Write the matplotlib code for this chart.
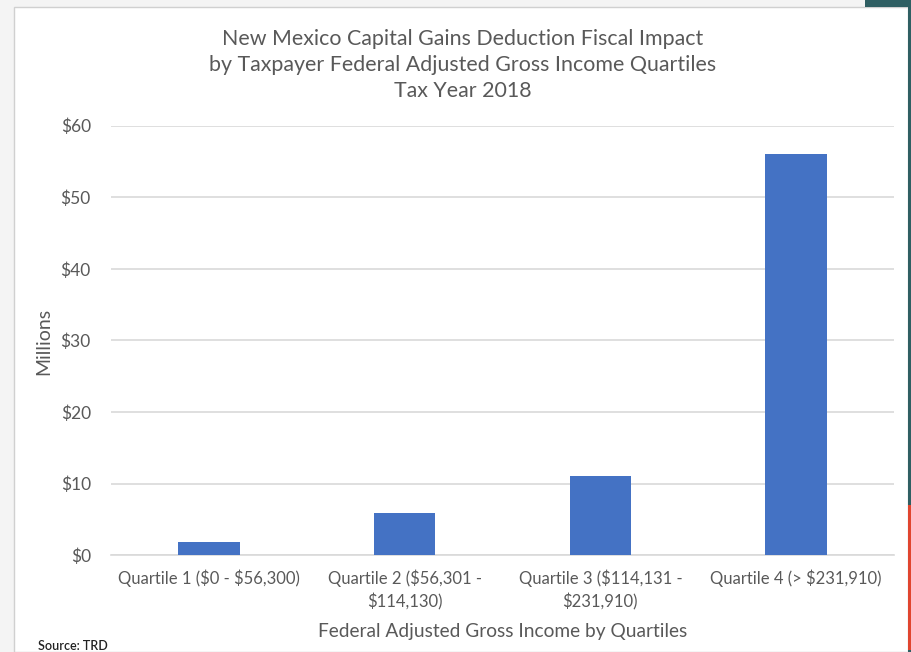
import matplotlib
matplotlib.use("Agg")
import matplotlib.pyplot as plt
from matplotlib.patches import Rectangle

plt.rcParams['font.family'] = ['Lato', 'DejaVu Sans']

categories = [
    r"Quartile 1 (\$0 - \$56,300)",
    "Quartile 2 (\\$56,301 -\n\\$114,130)",
    "Quartile 3 (\\$114,131 -\n\\$231,910)",
    r"Quartile 4 (> \$231,910)",
]
impact_millions = [1.9, 5.9, 11.1, 56.0]
yticks = [0, 10, 20, 30, 40, 50, 60]
ytick_labels = [r"\$0", r"\$10", r"\$20", r"\$30", r"\$40", r"\$50", r"\$60"]

W, H = 911, 652
fig = plt.figure(figsize=(W / 100, H / 100), dpi=100)
fig.patch.set_facecolor("#f4f4f4")

# slide background and chart frame
fig.patches.append(Rectangle((14 / W, 0), (908 - 14) / W, 1 - 7 / H,
                             transform=fig.transFigure, facecolor="white",
                             edgecolor="#d0d0d0", lw=1.0, zorder=-2))
fig.patches.append(Rectangle((908 / W, 0), 3 / W, 1, transform=fig.transFigure,
                             facecolor="#2f5f63", edgecolor="none", zorder=-1))
fig.patches.append(Rectangle((865 / W, 1 - 7 / H), 46 / W, 7 / H,
                             transform=fig.transFigure, facecolor="#2f5f63",
                             edgecolor="none", zorder=-1))
fig.patches.append(Rectangle((908 / W, 2 / H), 3 / W, 145 / H,
                             transform=fig.transFigure, facecolor="#e0452f",
                             edgecolor="none", zorder=-0.5))

left, right, top, bottom = 111, 894, 125.7, 555.3
ax = fig.add_axes([left / W, 1 - bottom / H, (right - left) / W, (bottom - top) / H])
ax.set_facecolor("none")
ax.set_zorder(1)

x = range(len(categories))
ax.bar(x, impact_millions, width=0.314, color="#4472C4", zorder=3)

ax.set_xlim(-0.5, len(categories) - 0.5)
ax.set_ylim(0, 60)
ax.set_yticks(yticks)
ax.set_yticklabels(ytick_labels)
ax.set_xticks(list(x))
ax.set_xticklabels(categories, linespacing=1.5)

ax.yaxis.grid(True, color="#d9d9d9", lw=1.2, zorder=0)
ax.set_axisbelow(True)
for s in ["top", "right", "left"]:
    ax.spines[s].set_visible(False)
ax.spines["bottom"].set_color("#d9d9d9")
ax.spines["bottom"].set_linewidth(1.2)

ax.tick_params(axis="y", length=0, pad=14.5, labelsize=12.5, labelcolor="#595959")
ax.tick_params(axis="x", length=0, pad=10, labelsize=12, labelcolor="#595959")

fig.text(44 / W, 1 - 341 / H, "Millions", rotation=90, ha="center", va="center",
         fontsize=14, color="#595959")

ax.set_xlabel("Federal Adjusted Gross Income by Quartiles", fontsize=13.8,
              color="#595959", labelpad=9)

fig.text(463 / W, 1 - 65 / H,
         "New Mexico Capital Gains Deduction Fiscal Impact\n"
         "by Taxpayer Federal Adjusted Gross Income Quartiles\n"
         "Tax Year 2018",
         ha="center", va="center", fontsize=15.4, color="#595959", linespacing=1.38)

fig.text(38 / W, 1 - 646 / H, "Source: TRD", ha="left", va="center",
         fontsize=9, color="#222222", fontweight="semibold")

fig.savefig("out.png", dpi=100)
